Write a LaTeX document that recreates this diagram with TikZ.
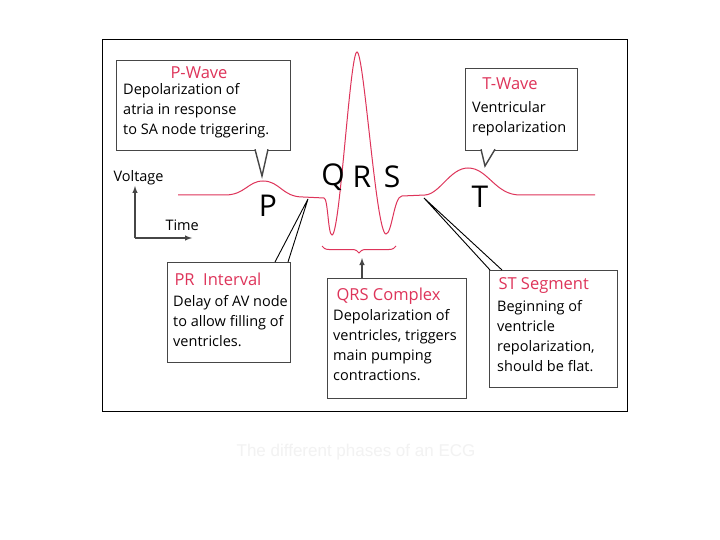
\documentclass[tikz,border=0pt]{standalone}
\usepackage{fontspec}
\setmainfont{Open Sans}
\newfontfamily\capfont{Liberation Sans}
\usetikzlibrary{decorations.pathreplacing}
\definecolor{ecg}{RGB}{222,52,90}
\definecolor{gr}{RGB}{70,70,70}
\begin{document}
\begin{tikzpicture}[x=1pt,y=-1pt,
  box/.style={draw=gr,line width=1.4pt,fill=white,inner sep=0pt},
  ttl/.style={text=ecg,font=\fontsize{16.5}{18}\selectfont},
  body/.style={font=\fontsize{14.5}{20}\selectfont,align=left,anchor=north west,inner sep=1pt},
  big/.style={font=\fontsize{30}{32}\selectfont},
  lbl/.style={font=\fontsize{14.5}{16}\selectfont}]
\useasboundingbox (0,0) rectangle (720,540);
\fill[white] (0,0) rectangle (720,540);
\draw[line width=1pt] (102,40) rectangle (627,411);
% waveform
\draw[ecg,line width=1pt] (178,195) -- (225,195)
  .. controls (245,195) and (248,181) .. (263,181)
  .. controls (280,181) and (282,197) .. (303,197) -- (324,198)
  .. controls (328,198) and (328,235) .. (332,235)
  .. controls (340,235) and (350,52) .. (357,52)
  .. controls (364,52) and (376,234) .. (386,234)
  .. controls (392,234) and (394,196) .. (402,196) -- (425,195)
  .. controls (440,194) and (450,168) .. (468,168)
  .. controls (488,168) and (495,195) .. (520,195) -- (595,195);
\node[big] (P) at (268,206) {P};
\node[big] (Q) at (333,177) {Q};
\node[big] (R) at (362,177) {R};
\node[big] (S) at (392,177) {S};
\node[big] (T) at (480,197) {T};
% axes
\coordinate (o) at (135,238);
\draw[gr,line width=1.4pt,-latex] (o) -- (135,186);
\draw[gr,line width=1.4pt,-latex] (o) -- (192,238);
\node[lbl,anchor=west] (vl) at (110,178) {Voltage};
\node[lbl,anchor=west] (tl) at (162,225) {Time};
% P-wave box
\node[box,minimum width=174pt,minimum height=90pt,anchor=north west] (pb) at (116,60) {};
\node[ttl] (pt) at (199,73) {P-Wave};
\node[body] (pbt) at (122,82) {Depolarization of\\atria in response\\to SA node triggering.};
\draw[gr,line width=1.4pt,fill=white] (255,149.3) -- (262,176) -- (268,149.3);
% T-wave box
\node[box,minimum width=112pt,minimum height=82pt,anchor=north west] (tb) at (465,68) {};
\node[ttl] (tt) at (510,84) {T-Wave};
\node[body] (tbt) at (471,100) {Ventricular\\repolarization};
\draw[gr,line width=1.4pt,fill=white] (481,149.3) -- (485,166) -- (495,149.3);
% PR box
\node[box,minimum width=123pt,minimum height=100pt,anchor=north west] (prb) at (167,262) {};
\node[ttl,anchor=west] (prt) at (171,279) {PR\ \ Interval};
\node[body] (prbt) at (172,294) {Delay of AV node\\to allow filling of\\ventricles.};
\coordinate (prp) at (308,199);
\draw[black,line width=0.9pt] (275,262) -- (prp) -- (288,262);
% QRS box
\node[box,minimum width=139pt,minimum height=120pt,anchor=north west] (qb) at (327,278) {};
\node[ttl,anchor=west] (qt) at (333,296) {QRS Complex};
\node[body] (qbt) at (332,308) {Depolarization of\\ventricles, triggers\\main pumping\\contractions.};
\draw[ecg,line width=1pt,decorate,decoration={brace,mirror,amplitude=7pt}] (322,246) -- (396,246);
\draw[gr,line width=1.4pt,-latex] (362,278) -- (362,258);
% ST box
\node[box,minimum width=128pt,minimum height=117pt,anchor=north west] (sb) at (489,270) {};
\node[ttl,anchor=west] (st) at (495,286) {ST Segment};
\node[body] (sbt) at (496,299) {Beginning of\\ventricle\\repolarization,\\should be flat.};
\coordinate (stp) at (424,198);
\draw[black,line width=0.9pt] (490,270) -- (stp) -- (502,270);
% caption
\node[font=\capfont\fontsize{17}{18}\selectfont,text={rgb,255:red,242;green,242;blue,242}] (cap) at (356,452) {The different phases of an ECG};
\end{tikzpicture}
\end{document}
